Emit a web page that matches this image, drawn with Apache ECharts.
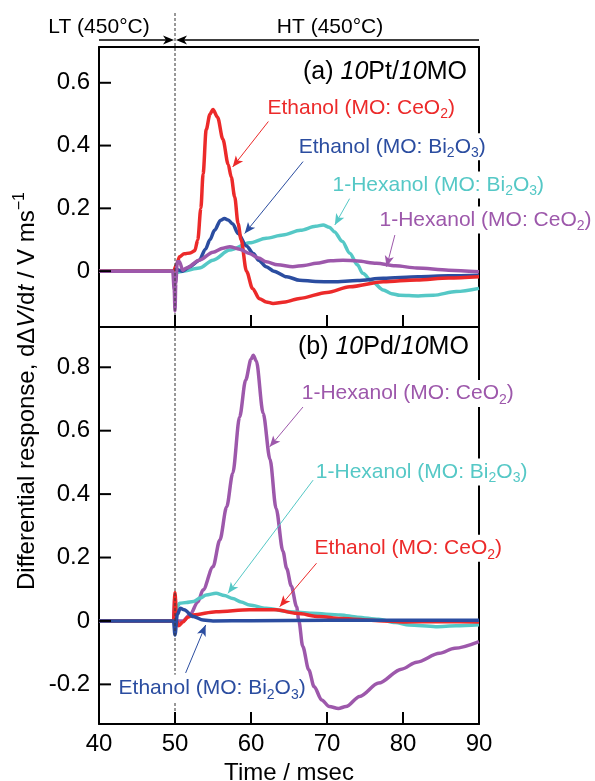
<!DOCTYPE html>
<html>
<head>
<meta charset="utf-8">
<script src="https://cdn.jsdelivr.net/npm/echarts@6/dist/echarts.min.js"></script>
<style>
html,body{margin:0;padding:0;background:#fff}
#chart{width:595px;height:781px}
</style>
</head>
<body>
<div id="chart"></div>
<script>
// ---- axes ----
const xTicks = [40, 50, 60, 70, 80, 90];
const yTicksA = [0, 0.2, 0.4, 0.6];
const yTicksB = [-0.2, 0, 0.2, 0.4, 0.6, 0.8];

// ---- (a) 10Pt/10MO ----
const tPtEtCe = [40, 44, 47, 49.8, 50.2, 50.6, 51.2, 52.0, 52.6, 53.0, 53.4, 53.7, 54.1, 54.6, 55.0, 55.6, 56.3, 57.0, 57.4, 57.85, 58.3, 58.7, 59.4, 60.2, 61.1, 62.0, 62.9, 64.5, 66.4, 70, 73, 77.4, 81.8, 86, 90];
const vPtEtCe = [0, 0, 0, 0, 0.02, 0.046, 0.055, 0.058, 0.065, 0.1, 0.2, 0.31, 0.45, 0.5, 0.515, 0.49, 0.42, 0.34, 0.3, 0.237, 0.152, 0.1, 0.0, -0.055, -0.088, -0.098, -0.103, -0.098, -0.087, -0.068, -0.05, -0.034, -0.028, -0.022, -0.018];

const tPtEtBi = [40, 44, 47, 49.8, 50.2, 51, 52, 53.2, 54, 54.6, 55.2, 56, 56.5, 57, 57.6, 58.3, 59.4, 60.3, 61, 62, 63, 64.7, 66.4, 68.5, 70.8, 74, 77.4, 82, 86, 90];
const vPtEtBi = [0, 0, 0, 0, 0.005, 0, 0.015, 0.035, 0.07, 0.1, 0.13, 0.162, 0.168, 0.163, 0.15, 0.12, 0.08, 0.056, 0.035, 0.014, 0, -0.018, -0.029, -0.033, -0.034, -0.03, -0.023, -0.018, -0.015, -0.013];

const tPtHxBi = [40, 44, 47, 49.8, 50.2, 51, 53.2, 55, 57.2, 59.8, 62, 64.2, 66.5, 68.5, 69.5, 70.3, 71, 72, 73, 74, 74.7, 76, 77.4, 78.5, 79.6, 82, 84, 87, 90];
const vPtHxBi = [0, 0, 0, 0, -0.004, 0, 0.01, 0.035, 0.067, 0.09, 0.105, 0.115, 0.13, 0.143, 0.147, 0.14, 0.125, 0.095, 0.057, 0.02, -0.007, -0.035, -0.06, -0.072, -0.077, -0.079, -0.077, -0.065, -0.055];

const tPtHxCe = [40, 44, 47, 49.7, 49.9, 50.0, 50.1, 50.3, 50.6, 51, 51.5, 53.2, 55, 56.3, 57.2, 58.5, 59.8, 61, 62, 63.5, 65.5, 67, 68.6, 70.5, 72.1, 74, 76.5, 79, 81.8, 86, 90];
const vPtHxCe = [0, 0, 0, 0, -0.06, -0.127, -0.04, 0.03, 0.03, 0.003, 0.01, 0.035, 0.06, 0.073, 0.078, 0.07, 0.056, 0.042, 0.03, 0.02, 0.014, 0.018, 0.025, 0.033, 0.035, 0.032, 0.025, 0.017, 0.01, 0.003, -0.002];

// ---- (b) 10Pd/10MO ----
const tPdHxCe = [40, 44, 47, 49.8, 50.0, 50.2, 51, 52, 53, 53.7, 55, 55.9, 56.8, 57.6, 58.5, 59.3, 60.0, 60.3, 60.7, 61.6, 62.5, 63.3, 64.2, 64.7, 65.3, 66.0, 66.3, 66.8, 67.6, 68.3, 69.3, 70.3, 71.5, 72.5, 74.3, 76.8, 79.8, 81.8, 84.8, 86.8, 90];
const vPdHxCe = [0, 0, 0, 0, 0.08, 0.0, 0.0, 0.02, 0.06, 0.098, 0.171, 0.255, 0.36, 0.466, 0.643, 0.76, 0.825, 0.838, 0.82, 0.655, 0.51, 0.355, 0.22, 0.165, 0.11, 0.045, 0.0, -0.08, -0.154, -0.207, -0.249, -0.27, -0.276, -0.27, -0.238, -0.196, -0.152, -0.13, -0.102, -0.086, -0.065];

const tPdHxBi = [40, 44, 47, 49.8, 50.0, 50.3, 50.6, 51.5, 52.4, 53.3, 54.1, 55.4, 56.5, 57.6, 58.7, 59.8, 62, 65.1, 68, 71.8, 74, 76.8, 79, 80.8, 84.3, 87, 90];
const vPdHxBi = [0, 0, 0, 0, 0.01, 0.045, 0.056, 0.058, 0.061, 0.072, 0.082, 0.087, 0.08, 0.071, 0.06, 0.05, 0.04, 0.029, 0.024, 0.019, 0.012, 0.005, -0.005, -0.013, -0.018, -0.015, -0.012];

const tPdEtCe = [40, 44, 47, 49.8, 50.0, 50.2, 50.5, 51, 51.7, 52.4, 55.4, 59.8, 63.3, 66, 69, 71.8, 76.8, 80, 85, 90];
const vPdEtCe = [0, 0, 0, 0, 0.09, 0.0, -0.015, -0.004, 0.012, 0.019, 0.029, 0.035, 0.035, 0.024, 0.014, 0.008, 0.001, -0.003, -0.002, -0.003];

const tPdEtBi = [40, 44, 47, 49.8, 50.0, 50.3, 50.7, 51.2, 52.4, 53.7, 55, 60, 70, 80, 90];
const vPdEtBi = [0, 0, 0, 0, -0.044, 0.02, 0.04, 0.035, 0.014, 0.003, 0.0, 0.001, 0.002, 0.002, 0.002];

// ---- styling ----
const FONT = '"Liberation Sans", Arial, Helvetica, sans-serif';
const RED = '#ec2a2a', BLUE = '#2b4da0', CYAN = '#55c8c6', PURPLE = '#9d58ab';

// Annotation arrows, [t0, v0, t1, v1] in data units, arrow head at the second point
const arrPtEtCe = [62.46, 0.482, 57.59, 0.332];
const arrPtEtBi = [66.85, 0.349, 59.17, 0.120];
const arrPtHxBi = [73.0, 0.232, 71.03, 0.147];
const arrPtHxCe = [78.93, 0.115, 77.84, 0.014];
const arrPdHxCe = [66.85, 0.675, 62.46, 0.549];
const arrPdHxBi = [68.17, 0.444, 56.97, 0.087];
const arrPdEtCe = [68.62, 0.182, 63.78, 0.045];
const arrPdEtBi = [51.40, -0.164, 54.03, -0.013];

function zip(t, v) { return t.map((x, i) => [x, v[i]]); }

function curve(name, t, v, color, gi, z, arrow) {
  return {
    type: 'line', name: name, xAxisIndex: gi, yAxisIndex: gi,
    data: zip(t, v), showSymbol: false, symbol: 'none',
    smooth: 0.3, smoothMonotone: 'x', z: z, animation: false,
    lineStyle: { color: color, width: 3.5 }, itemStyle: { color: color },
    markLine: {
      silent: true, animation: false, symbol: ['none', 'arrow'], symbolSize: [7, 11],
      lineStyle: { color: color, width: 1, type: 'solid' }, label: { show: false },
      data: [[{ coord: [arrow[0], arrow[1]] }, { coord: [arrow[2], arrow[3]] }]]
    }
  };
}

const frameLine = { show: true, onZero: false, lineStyle: { color: '#000', width: 2 } };
const noTick = { show: false };

const chart = echarts.init(document.getElementById('chart'), null, { renderer: 'canvas' });
chart.setOption({
  animation: false,
  backgroundColor: '#fff',
  textStyle: { fontFamily: FONT },
  grid: [
    { left: 99, top: 47, width: 380, height: 280, show: false, containLabel: false, outerBoundsMode: 'none' },
    { left: 99, top: 327, width: 380, height: 397, show: false, containLabel: false, outerBoundsMode: 'none' }
  ],
  xAxis: [
    { type: 'value', gridIndex: 0, position: 'bottom', min: 40, max: 90, interval: 10,
      axisLine: frameLine, splitLine: { show: false }, axisTick: noTick, axisLabel: { show: false } },
    { type: 'value', gridIndex: 1, position: 'bottom', min: 40, max: 90, interval: 10,
      axisLine: frameLine, splitLine: { show: false }, axisTick: noTick,
      axisLabel: { customValues: xTicks, color: '#000', fontSize: 24, margin: 8, fontFamily: FONT },
      name: 'Time / msec', nameLocation: 'middle', nameGap: 34,
      nameTextStyle: { color: '#000', fontSize: 24, fontFamily: FONT } },
    // upper edge of panel (a)
    { type: 'value', gridIndex: 0, position: 'top', min: 40, max: 90,
      axisLine: frameLine, axisTick: noTick, axisLabel: { show: false }, splitLine: { show: false } }
  ],
  yAxis: [
    { type: 'value', gridIndex: 0, position: 'left', min: -0.178, max: 0.714,
      axisLine: frameLine, splitLine: { show: false }, axisTick: noTick,
      axisLabel: { customValues: yTicksA, color: '#000', fontSize: 24, margin: 9, fontFamily: FONT } },
    { type: 'value', gridIndex: 1, position: 'left', min: -0.325, max: 0.927,
      axisLine: frameLine, splitLine: { show: false }, axisTick: noTick,
      axisLabel: { customValues: yTicksB, color: '#000', fontSize: 24, margin: 9, fontFamily: FONT } },
    // right edges
    { type: 'value', gridIndex: 0, position: 'right', min: -0.178, max: 0.714,
      axisLine: frameLine, axisTick: noTick, axisLabel: { show: false }, splitLine: { show: false } },
    { type: 'value', gridIndex: 1, position: 'right', min: -0.325, max: 0.927,
      axisLine: frameLine, axisTick: noTick, axisLabel: { show: false }, splitLine: { show: false } }
  ],
  series: [
    curve('1-Hexanol (MO: Bi2O3) Pt', tPtHxBi, vPtHxBi, CYAN, 0, 2, arrPtHxBi),
    curve('Ethanol (MO: Bi2O3) Pt', tPtEtBi, vPtEtBi, BLUE, 0, 3, arrPtEtBi),
    curve('Ethanol (MO: CeO2) Pt', tPtEtCe, vPtEtCe, RED, 0, 4, arrPtEtCe),
    curve('1-Hexanol (MO: CeO2) Pt', tPtHxCe, vPtHxCe, PURPLE, 0, 5, arrPtHxCe),
    curve('1-Hexanol (MO: CeO2) Pd', tPdHxCe, vPdHxCe, PURPLE, 1, 2, arrPdHxCe),
    curve('1-Hexanol (MO: Bi2O3) Pd', tPdHxBi, vPdHxBi, CYAN, 1, 3, arrPdHxBi),
    curve('Ethanol (MO: CeO2) Pd', tPdEtCe, vPdEtCe, RED, 1, 4, arrPdEtCe),
    curve('Ethanol (MO: Bi2O3) Pd', tPdEtBi, vPdEtBi, BLUE, 1, 5, arrPdEtBi)
  ]
});

// ---- overlays positioned through the axes' scales ----
function px(gi, t, v) { return chart.convertToPixel({ gridIndex: gi }, [t, v]); }

const gfx = [];

// inward tick marks on the bottom and left edges of both panels
const TICK = 12;
[[0, -0.178, yTicksA], [1, -0.325, yTicksB]].forEach(function (g) {
  const gi = g[0], yMin = g[1];
  xTicks.slice(1, -1).forEach(function (t) {
    const p = px(gi, t, yMin);
    gfx.push({ type: 'polyline', z: 60, shape: { points: [[p[0], p[1]], [p[0], p[1] - TICK]] },
      style: { stroke: '#000', lineWidth: 2, fill: null } });
  });
  g[2].forEach(function (v) {
    const p = px(gi, 40, v);
    gfx.push({ type: 'polyline', z: 60, shape: { points: [[p[0], p[1]], [p[0] + TICK, p[1]]] },
      style: { stroke: '#000', lineWidth: 2, fill: null } });
  });
});

function richSet(size, color) {
  return {
    n: { fontSize: size, fill: color, fontFamily: FONT, lineHeight: size + 6, verticalAlign: 'middle' },
    i: { fontSize: size, fill: color, fontFamily: FONT, fontStyle: 'italic', lineHeight: size + 6, verticalAlign: 'middle' },
    s: { fontSize: Math.round(size * 0.66), fill: color, fontFamily: FONT, lineHeight: Math.round(size * 0.66), verticalAlign: 'bottom' },
    p: { fontSize: Math.round(size * 0.66), fill: color, fontFamily: FONT, lineHeight: Math.round(size * 0.66), verticalAlign: 'top' }
  };
}

const EtCe = '{n|Ethanol (MO: CeO}{s|2}{n|)}';
const EtBi = '{n|Ethanol (MO: Bi}{s|2}{n|O}{s|3}{n|)}';
const HxCe = '{n|1-Hexanol (MO: CeO}{s|2}{n|)}';
const HxBi = '{n|1-Hexanol (MO: Bi}{s|2}{n|O}{s|3}{n|)}';

// [grid, t, v, text, color, align, size]
const notes = [
  [0, 88.55, 0.635, '{n|(a) }{i|10}{n|Pt/}{i|10}{n|MO}', '#000', 'right', 25],
  [0, 74.5, 0.52, EtCe, RED, 'center', 21],
  [0, 78.58, 0.396, EtBi, BLUE, 'center', 21],
  [0, 84.64, 0.274, HxBi, CYAN, 'center', 21],
  [0, 90.86, 0.163, HxCe, PURPLE, 'center', 21],
  [1, 88.8, 0.864, '{n|(b) }{i|10}{n|Pd/}{i|10}{n|MO}', '#000', 'right', 25],
  [1, 80.63, 0.717, HxCe, PURPLE, 'center', 21],
  [1, 82.45, 0.470, HxBi, CYAN, 'center', 21],
  [1, 80.70, 0.229, EtCe, RED, 'center', 21],
  [1, 54.89, -0.212, EtBi, BLUE, 'center', 21]
];

notes.forEach(function (nt) {
  const p = px(nt[0], nt[1], nt[2]);
  gfx.push({
    type: 'text', x: p[0], y: p[1], z: 50,
    style: {
      text: nt[3], rich: richSet(nt[6], nt[4]), fill: nt[4],
      fontSize: nt[6], fontFamily: FONT,
      align: nt[5], verticalAlign: 'middle',
      backgroundColor: nt[4] === '#000' ? null : '#fff', padding: [0, 1]
    }
  });
});

// Stage boundary at 50 msec and the LT / HT header
const x40 = px(0, 40, 0)[0], x50 = px(0, 50, 0)[0], x90 = px(0, 90, 0)[0];
const yBottom = px(1, 40, -0.325)[1];
const yHead = 40;
gfx.push({ type: 'line', z: 40, shape: { x1: x50, y1: 13, x2: x50, y2: yBottom },
  style: { stroke: '#333', lineWidth: 1, lineDash: [3, 2] } });
gfx.push({ type: 'line', z: 40, shape: { x1: x40, y1: yHead, x2: x50 - 8, y2: yHead },
  style: { stroke: '#000', lineWidth: 1.3 } });
gfx.push({ type: 'line', z: 40, shape: { x1: x50 + 8, y1: yHead, x2: x90, y2: yHead },
  style: { stroke: '#000', lineWidth: 1.3 } });
gfx.push({ type: 'polygon', z: 40, shape: { points: [[x50 - 1, yHead], [x50 - 12, yHead - 4.5], [x50 - 9, yHead], [x50 - 12, yHead + 4.5]] },
  style: { fill: '#000' } });
gfx.push({ type: 'polygon', z: 40, shape: { points: [[x50 + 1, yHead], [x50 + 12, yHead - 4.5], [x50 + 9, yHead], [x50 + 12, yHead + 4.5]] },
  style: { fill: '#000' } });
gfx.push({ type: 'text', x: x40, y: 27, z: 40,
  style: { text: 'LT (450°C)', fill: '#000', fontSize: 21, fontFamily: FONT, align: 'center', verticalAlign: 'middle' } });
gfx.push({ type: 'text', x: px(0, 70.4, 0)[0], y: 27, z: 40,
  style: { text: 'HT (450°C)', fill: '#000', fontSize: 21, fontFamily: FONT, align: 'center', verticalAlign: 'middle' } });

// Shared vertical axis title
gfx.push({ type: 'text', x: 27, y: 391, rotation: Math.PI / 2, z: 40,
  style: {
    text: '{n|Differential response, d\u0394}{i|V}{n|/d}{i|t}{n| / V ms}{p|\u22121}',
    rich: richSet(24, '#000'), fill: '#000', fontSize: 24, fontFamily: FONT,
    align: 'center', verticalAlign: 'middle'
  } });

chart.setOption({ graphic: gfx });
</script>
</body>
</html>
